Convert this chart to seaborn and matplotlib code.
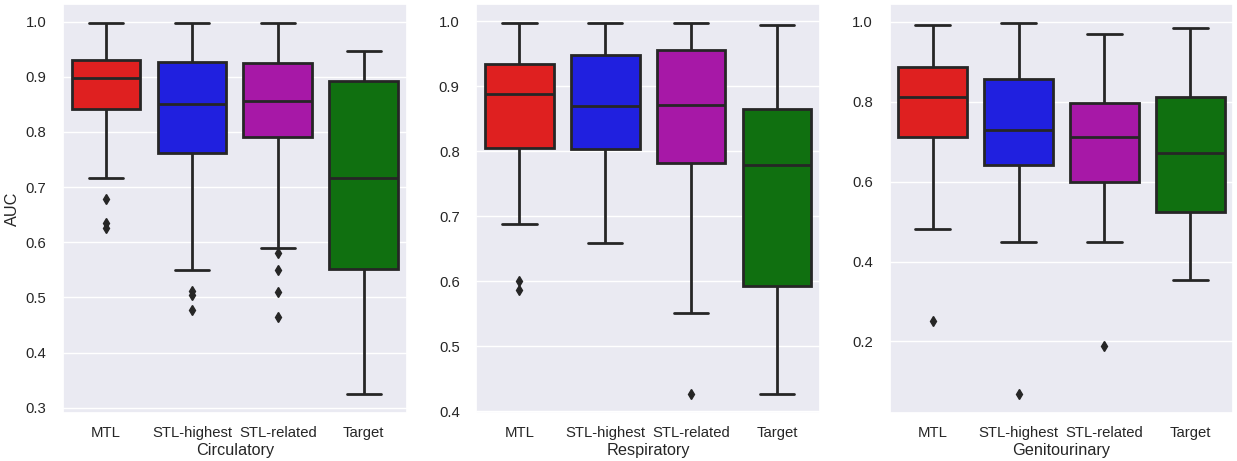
import pandas as pd
import matplotlib
matplotlib.use("Agg")
import matplotlib.pyplot as plt
import seaborn as sns

# categories
models = ["MTL", "STL-highest", "STL-related", "Target"]
panels = ["Circulatory", "Respiratory", "Genitourinary"]
colors = ["#ff0000", "#0000ff", "#bf00bf", "#008000"]

# box summaries, one row per panel, one value per model
whisk_lo = [[0.716, 0.549, 0.590, 0.324],
            [0.688, 0.659, 0.551, 0.427],
            [0.481, 0.449, 0.450, 0.353]]
q1 = [[0.842, 0.762, 0.790, 0.551],
      [0.806, 0.804, 0.782, 0.593],
      [0.713, 0.641, 0.598, 0.524]]
median = [[0.898, 0.851, 0.856, 0.717],
          [0.888, 0.870, 0.871, 0.779],
          [0.812, 0.730, 0.711, 0.672]]
q3 = [[0.931, 0.927, 0.925, 0.893],
      [0.935, 0.948, 0.956, 0.866],
      [0.888, 0.857, 0.796, 0.812]]
whisk_hi = [[0.998, 0.998, 0.998, 0.946],
            [0.998, 0.998, 0.998, 0.995],
            [0.993, 0.998, 0.970, 0.984]]
# outliers (all below the lower whisker)
outliers = [[[0.679, 0.634, 0.625], [0.512, 0.505, 0.478], [0.580, 0.549, 0.510, 0.465], []],
            [[0.601, 0.586], [], [0.426], []],
            [[0.250], [0.067], [0.188], []]]


def box_points(lo, a, med, b, hi, outs):
    # points that give back exactly these quartiles / whiskers / fliers
    below = list(outs) + [lo]
    above = [hi]
    while len(above) < len(below):
        above.append(hi)
    m = len(below) + 2
    return below + [a] * m + [med] + [b] * m + above


rows = []
for p, panel in enumerate(panels):
    for g, model in enumerate(models):
        pts = box_points(whisk_lo[p][g], q1[p][g], median[p][g], q3[p][g],
                         whisk_hi[p][g], outliers[p][g])
        for v in pts:
            rows.append({"panel": panel, "model": model, "AUC": v})
df = pd.DataFrame(rows)

sns.set_theme(style="darkgrid")
plt.rcParams["font.family"] = ["Liberation Sans", "DejaVu Sans"]
plt.rcParams["xtick.major.pad"] = 3.5
plt.rcParams["ytick.major.pad"] = 6

fig, axes = plt.subplots(1, 3, figsize=(12.37, 4.61), dpi=100)
fig.subplots_adjust(left=0.051, right=0.997, bottom=0.104, top=0.991, wspace=0.203)

for ax, panel in zip(axes, panels):
    sub = df[df["panel"] == panel]
    sns.boxplot(data=sub, x="model", y="AUC", hue="model", order=models,
                hue_order=models, palette=colors, legend=False, ax=ax,
                linecolor="#262626", linewidth=2, width=0.8,
                flierprops=dict(marker="d", markerfacecolor="#262626",
                                markeredgecolor="#262626", markersize=5))
    ax.set_xlabel(panel, fontsize=11.7, labelpad=2)
    ax.set_ylabel("")
    ax.tick_params(labelsize=10.7)

axes[0].set_ylabel("AUC", fontsize=11.7)
axes[0].set_yticks([0.3, 0.4, 0.5, 0.6, 0.7, 0.8, 0.9, 1.0])
axes[1].set_yticks([0.4, 0.5, 0.6, 0.7, 0.8, 0.9, 1.0])
axes[2].set_yticks([0.2, 0.4, 0.6, 0.8, 1.0])

fig.savefig("out.png", dpi=100)
